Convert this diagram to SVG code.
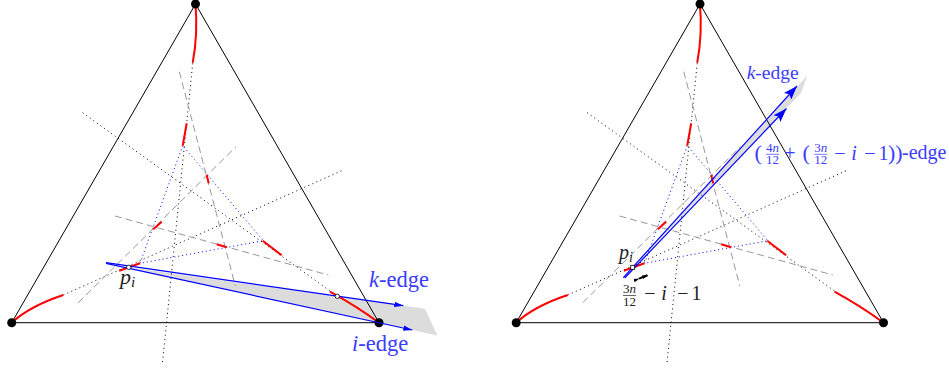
<svg xmlns="http://www.w3.org/2000/svg" xmlns:xlink="http://www.w3.org/1999/xlink" width="949" height="374" viewBox="0 0 949 374">
<style>
.tri{fill:none;stroke:#000;stroke-width:1}
.red{fill:none;stroke:#f00;stroke-width:2}
.dot{fill:none;stroke:#000;stroke-width:1;stroke-dasharray:1 3.4}
.bdot{fill:none;stroke:#00f;stroke-width:1;stroke-dasharray:1 3}
.dash{fill:none;stroke:#999;stroke-width:1;stroke-dasharray:7 4}
.blue{fill:none;stroke:#00f;stroke-width:1.2}
.shade{fill:#dcdcdc;stroke:none}
.mathb{font-family:"Liberation Serif","DejaVu Serif",serif;fill:#3c3cff}
.math{font-family:"Liberation Serif","DejaVu Serif",serif;fill:#222}
.it{font-style:italic}
</style>
<defs>
<marker id="arrS" viewBox="0 0 10 6" refX="10" refY="3" markerWidth="9" markerHeight="5.5" markerUnits="userSpaceOnUse" orient="auto">
<path d="M0,0 L10,3 L0,6 Z" fill="#00f"/>
</marker>
<marker id="arrL" viewBox="0 0 10 7" refX="10" refY="3.5" markerWidth="14" markerHeight="10" markerUnits="userSpaceOnUse" orient="auto">
<path d="M0,0 L10,3.5 L0,7 L2,3.5 Z" fill="#00f"/>
</marker>
<marker id="arrK" viewBox="0 0 10 6" refX="9" refY="3" markerWidth="6" markerHeight="4.5" markerUnits="userSpaceOnUse" orient="auto">
<path d="M0,0 L10,3 L0,6 Z" fill="#000"/>
</marker>
<g id="base">
<polygon class="tri" points="195.5,4 11.7,322.7 379,322.7"/>
<path class="dot" d="M192.7,63.3 L162.3,365"/>
<path class="dot" d="M82.7,112.7 L337.3,296.3"/>
<path class="dot" d="M63.3,295 L341.7,170.7"/>
<polygon class="bdot" points="182.7,145.7 140,263.3 263.3,240.7"/>
<path class="dash" d="M179.3,71.7 L235.3,286"/>
<path class="dash" d="M78.3,302.7 L236,146.7"/>
<path class="dash" d="M115,216 L328.3,275"/>
<path class="red" d="M195.5,4 Q198,35 192.7,62.7"/>
<path class="red" d="M186.7,123.3 L182.7,145.7"/>
<path class="red" d="M206.7,175 L208.7,183.3"/>
<path class="red" d="M153.3,229.3 L161.7,221.7"/>
<path class="red" d="M216.7,244.3 L226.7,247.3"/>
<path class="red" d="M262.7,240.7 L281.7,255.3"/>
<path class="red" d="M330,291.7 Q356,306 379,322.7"/>
<path class="red" d="M11.7,322.7 Q30,306 63.3,295"/>
<path class="red" d="M119.3,270.7 L140,263.3"/>
<circle cx="195.5" cy="4" r="4.5" fill="#000"/>
<circle cx="11.7" cy="322.7" r="4.5" fill="#000"/>
<circle cx="379" cy="322.7" r="4.5" fill="#000"/>
</g>
</defs>

<g id="left-panel">
<polygon class="shade" points="128.7,267.3 425,308.8 437.3,335.5"/>
<use xlink:href="#base" href="#base"/>
<g id="left-edges">
<path class="blue" d="M106,262.7 L403.3,305.7" marker-end="url(#arrS)"/>
<path class="blue" d="M106,263.3 L412.3,330" marker-end="url(#arrS)"/>
</g>
<circle cx="128.7" cy="267.3" r="2.2" fill="#fff" stroke="#000" stroke-width="0.8"/>
<circle cx="337.3" cy="296.3" r="2.2" fill="#fff" stroke="#000" stroke-width="0.8"/>
<text class="math it" x="120" y="283.5" font-size="22">p<tspan font-size="15" dy="3">i</tspan></text>
<text class="mathb" x="369" y="286.7" font-size="22.5"><tspan class="it">k</tspan>-edge</text>
<text class="mathb" x="352" y="351" font-size="22.5"><tspan class="it">i</tspan>-edge</text>
</g>

<g id="right-panel">
<polygon class="shade" points="632.7,267.3 807.3,75.5 801,93"/>
<use xlink:href="#base" href="#base" transform="translate(504.5,0)"/>
<g id="right-edges">
<path class="blue" d="M623.3,277.7 L797,86" marker-end="url(#arrL)"/>
<path class="blue" d="M624.7,278 L786.5,108.5" marker-end="url(#arrL)"/>
<path d="M639,278.6 L647.5,275.2" stroke="#000" stroke-width="2" marker-start="url(#arrK)" marker-end="url(#arrK)"/>
</g>
<rect x="630.7" y="265.3" width="4" height="4" fill="#fff" stroke="#000" stroke-width="0.8"/>
<text class="math it" x="619" y="259" font-size="20">p<tspan font-size="14" dy="3">i</tspan></text>
<g id="label-frac-black">
<text class="math it" x="629.5" y="293" font-size="13" text-anchor="middle"><tspan font-style="normal">3</tspan>n</text>
<line x1="623" y1="295.5" x2="636" y2="295.5" stroke="#222" stroke-width="0.7"/>
<text class="math" x="629.5" y="305.5" font-size="13" text-anchor="middle">12</text>
<text class="math" x="650" y="299.5" font-size="20" text-anchor="middle">−</text>
<text class="math it" x="664" y="299.5" font-size="20" text-anchor="middle">i</text>
<text class="math" x="683" y="299.5" font-size="20" text-anchor="middle">−</text>
<text class="math" x="696.5" y="299.5" font-size="20" text-anchor="middle">1</text>
</g>
<text class="mathb" x="746.7" y="79" font-size="19.5"><tspan class="it">k</tspan>-edge</text>
<g id="label-long">
<text class="mathb" x="754.5" y="160" font-size="22">(</text>
<text class="mathb it" x="772.5" y="151.5" font-size="13" text-anchor="middle"><tspan font-style="normal">4</tspan>n</text>
<line x1="766" y1="154.3" x2="779" y2="154.3" stroke="#3c3cff" stroke-width="0.7"/>
<text class="mathb" x="772.5" y="163.5" font-size="13" text-anchor="middle">12</text>
<text class="mathb" x="790" y="159.5" font-size="20" text-anchor="middle">+</text>
<text class="mathb" x="802.5" y="160" font-size="22">(</text>
<text class="mathb it" x="820.8" y="151.5" font-size="13" text-anchor="middle"><tspan font-style="normal">3</tspan>n</text>
<line x1="814.3" y1="154.3" x2="827.3" y2="154.3" stroke="#3c3cff" stroke-width="0.7"/>
<text class="mathb" x="820.8" y="163.5" font-size="13" text-anchor="middle">12</text>
<text class="mathb" x="840" y="159.5" font-size="20" text-anchor="middle">−</text>
<text class="mathb it" x="854" y="159.5" font-size="20" text-anchor="middle">i</text>
<text class="mathb" x="870" y="159.5" font-size="20" text-anchor="middle">−</text>
<text class="mathb" x="883.5" y="159.5" font-size="20" text-anchor="middle">1</text>
<text class="mathb" x="888" y="160" font-size="22">))</text>
<text class="mathb" x="902" y="159" font-size="20">-edge</text>
</g>
</g>
</svg>
